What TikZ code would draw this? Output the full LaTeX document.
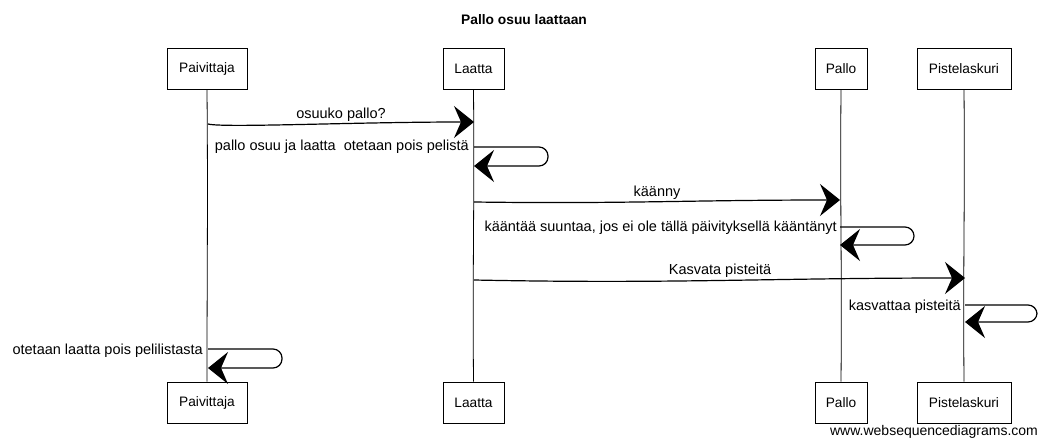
\documentclass[tikz,border=0pt]{standalone}
\usepackage{fontspec}
\setmainfont{Liberation Sans}
\usetikzlibrary{arrows.meta}
\begin{document}
\begin{tikzpicture}[x=1pt,y=-1pt,
  actor/.style={draw, line width=0.9pt, minimum height=41pt, inner sep=0pt, font=\fontsize{13.7}{16}\selectfont},
  life/.style={line width=0.8pt},
  msg/.style={line width=1.2pt, -{Stealth[length=20pt,width=32pt,inset=7pt]}},
  selfmsg/.style={msg, rounded corners=9pt},
  lbl/.style={font=\fontsize{14.5}{17}\selectfont, inner sep=0pt}]
\useasboundingbox (0,0) rectangle (1048,447);
\fill[white] (0,0) rectangle (1048,447);
\node[font=\bfseries\fontsize{13.8}{16}\selectfont] (title) at (524,20) {Pallo osuu laattaan};
% actors top
\node[actor, minimum width=80pt] (pT) at (207,69) {Paivittaja};
\node[actor, minimum width=61pt] (lT) at (473.5,69) {Laatta};
\node[actor, minimum width=52pt] (bT) at (841,69) {Pallo};
\node[actor, minimum width=94pt] (sT) at (964,69) {Pistelaskuri};
% actors bottom
\node[actor, minimum width=80pt] (pB) at (207,402.5) {Paivittaja};
\node[actor, minimum width=61pt] (lB) at (473.5,402.5) {Laatta};
\node[actor, minimum width=52pt] (bB) at (841,402.5) {Pallo};
\node[actor, minimum width=94pt] (sB) at (964,402.5) {Pistelaskuri};
% lifelines
\draw[life] (pT.south) .. controls +(1,120) and +(0,-120) .. (pB.north);
\draw[life] (lT.south) .. controls +(1,120) and +(-1,-120) .. (lB.north);
\draw[life] (bT.south) .. controls +(-1,120) and +(1,-120) .. (bB.north);
\draw[life] (sT.south) .. controls +(1,120) and +(-1,-120) .. (sB.north);
% message anchor points
\coordinate (m1a) at (208,124);
\coordinate (m1b) at (474,122);
\coordinate (s1a) at (474,147);
\coordinate (s1b) at (474,166);
\coordinate (m2a) at (474,202);
\coordinate (m2b) at (840,200);
\coordinate (s2a) at (840,227);
\coordinate (s2b) at (840,245);
\coordinate (m3a) at (474,280);
\coordinate (m3b) at (965,278);
\coordinate (s3a) at (965,305);
\coordinate (s3b) at (965,322);
\coordinate (s4a) at (208,349);
\coordinate (s4b) at (208,368);
% messages
\draw[msg] (m1a) .. controls +(15,4) and +(-120,0) .. (m1b);
\node[lbl] (l1) at (341,115) {osuuko pallo?};
\draw[selfmsg] (s1a) -| ([xshift=74pt]s1b) -- (s1b);
\node[lbl, anchor=east] (l2) at (469,147) {pallo osuu ja laatta\ \ otetaan pois pelistä};
\draw[msg] (m2a) .. controls +(150,2) and +(-150,0) .. (m2b);
\node[lbl] (l3) at (657,193) {käänny};
\draw[selfmsg] (s2a) -| ([xshift=74pt]s2b) -- (s2b);
\node[lbl, anchor=east] (l4) at (837,228) {kääntää suuntaa, jos ei ole tällä päivityksellä kääntänyt};
\draw[msg] (m3a) .. controls +(200,4) and +(-200,0) .. (m3b);
\node[lbl] (l5) at (720,271) {Kasvata pisteitä};
\draw[selfmsg] (s3a) -| ([xshift=72pt]s3b) -- (s3b);
\node[lbl, anchor=east] (l6) at (961,307) {kasvattaa pisteitä};
\draw[selfmsg] (s4a) -| ([xshift=74pt]s4b) -- (s4b);
\node[lbl, anchor=east] (l7) at (203,351) {otetaan laatta pois pelilistasta};
% footer
\node[lbl, font=\fontsize{14}{16}\selectfont] (footer) at (934,432) {www.websequencediagrams.com};
\end{tikzpicture}
\end{document}
